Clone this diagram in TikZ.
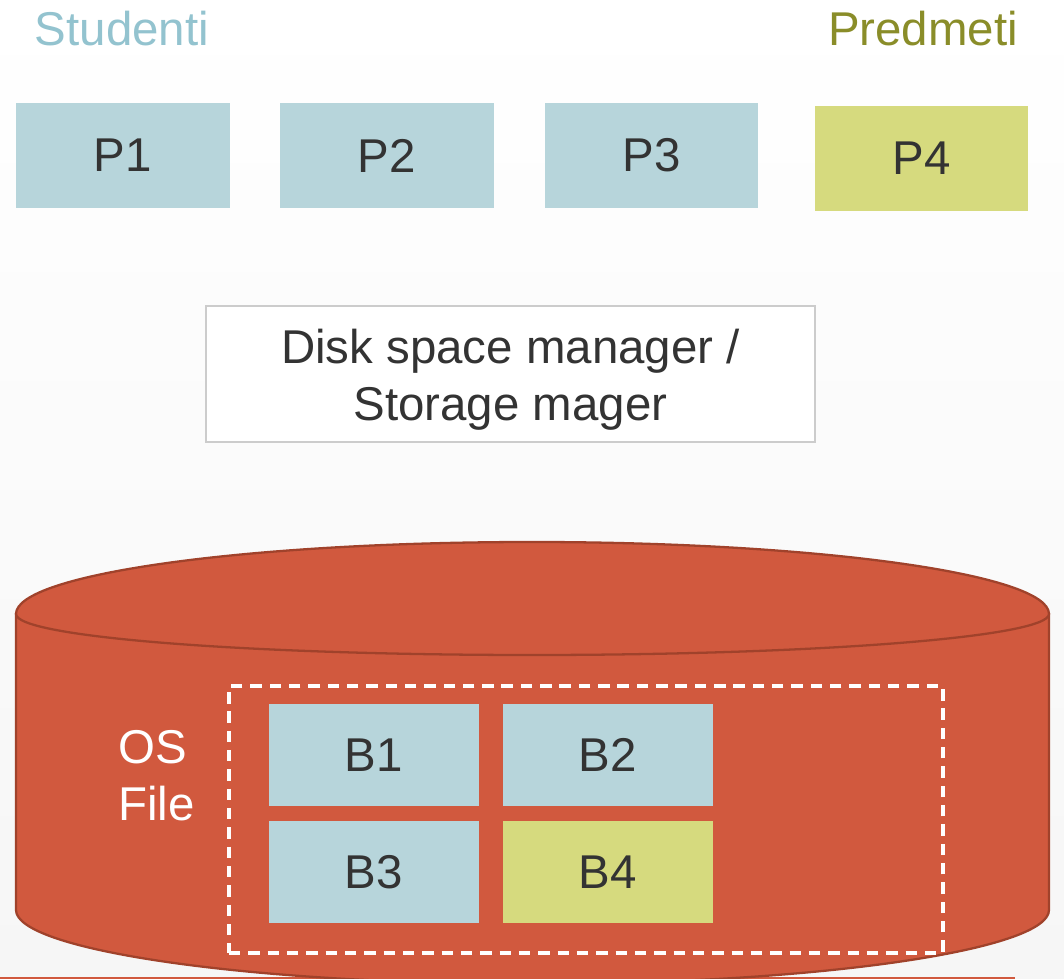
\documentclass[tikz,border=0pt]{standalone}
\usepackage{fontspec}
\setmainfont{Liberation Sans}
\usetikzlibrary{positioning}
\definecolor{pageblue}{HTML}{B7D5DB}
\definecolor{pagegreen}{HTML}{D6DA7E}
\definecolor{studblue}{HTML}{93C3CF}
\definecolor{predolive}{HTML}{8A8D29}
\definecolor{diskred}{HTML}{D1593E}
\definecolor{diskedge}{HTML}{A0422B}
\definecolor{textgray}{HTML}{333333}
\definecolor{boxgray}{HTML}{CCCCCC}
\definecolor{bggray}{HTML}{F6F6F6}

\begin{document}
\begin{tikzpicture}[x=0.02cm, y=-0.02cm, every node/.style={font=\fontsize{27}{32.4}\selectfont, text=textgray}, page/.style={fill=pageblue, minimum width=4.28cm, minimum height=2.1cm, inner sep=0pt}, block/.style={fill=pageblue, minimum width=4.2cm, minimum height=2.04cm, inner sep=0pt}, disk/.style={fill=diskred, draw=diskedge, line width=1.3pt}]
	\useasboundingbox (0,0) rectangle (1064,979);
	\shade[top color=white, bottom color=bggray] (0,0) rectangle (1064,979);
	% labels and pages
	\node[text=studblue, inner sep=0pt] (studenti) at (122,29) {Studenti};
	\node[text=predolive, inner sep=0pt] (predmeti) at (923,29) {Predmeti};
	\node[page] (P1) at (123,155.5) {P1};
	\node[page] (P2) at (387,155.5) {P2};
	\node[page] (P3) at (651.5,155.5) {P3};
	\node[page, fill=pagegreen] (P4) at (921.5,158.5) {P4};
	\node[draw=boxgray, fill=white, line width=0.8pt, minimum width=12.18cm, minimum height=2.72cm, align=center] (manager) at (510.5,374) {\rule{0pt}{26pt}Disk space manager /\\Storage mager};
	% disk
	\draw[diskred, line width=1.2pt] (0,978) -- (1015,978);
	\draw[disk] (16,614) -- (16,910) .. controls (16,950) and (247,984) .. (532,984) .. controls (817,984) and (1049,950) .. (1049,910) -- (1049,614) -- cycle;
	\draw[disk] (16,614) .. controls (16,574) and (247,542) .. (532,542) .. controls (817,542) and (1049,574) .. (1049,614) .. controls (1049,637) and (817,655) .. (532,655) .. controls (247,655) and (16,637) .. (16,614) -- cycle;
	\node[draw=white, dash pattern=on 6.5pt off 4.5pt, line width=1.8pt, minimum width=14.28cm, minimum height=5.34cm, inner sep=0pt] (file) at (586,819.5) {};
	\node[text=white, align=left, anchor=west, inner sep=0pt] (osfile) at (118,776) {OS\\File};
	\node[block] (B1) at (374,755) {B1};
	\node[block] (B2) at (608,755) {B2};
	\node[block] (B3) at (374,872) {B3};
	\node[block, fill=pagegreen] (B4) at (608,872) {B4};
\end{tikzpicture}
\end{document}
